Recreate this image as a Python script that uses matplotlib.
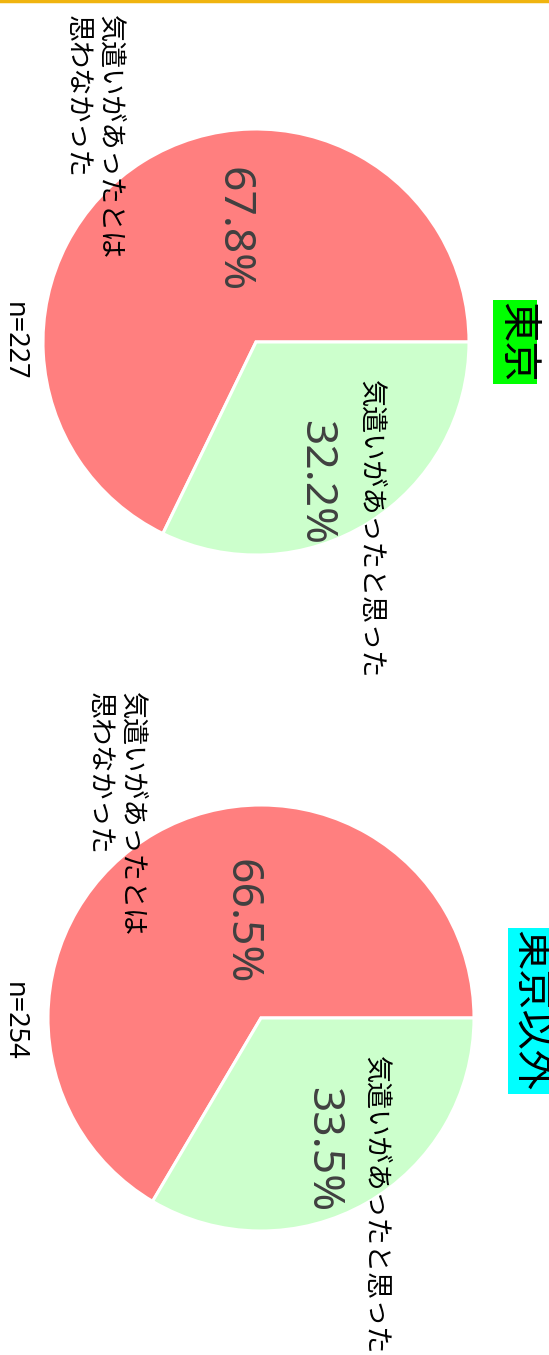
import matplotlib.pyplot as plt

plt.rcParams['font.family'] = ['Noto Sans', 'Noto Sans CJK JP', 'DejaVu Sans']

# data
regions = ['東京', '東京以外']
region_colors = ['#00FF00', '#00FFFF']
sample_sizes = [227, 254]
answers = ['気遣いがあったとは\n思わなかった', '気遣いがあったと思った']
answer_colors = ['#FF7F7F', '#CCFFCC']
shares_tokyo = [67.8, 32.2]
shares_other = [66.5, 33.5]
shares = [shares_tokyo, shares_other]

# layout (pixel coordinates of the rotated picture)
centers = [(256, 342), (261, 1018)]
radius = 213
pct_pos = [[(233, 230), (315, 483)], [(240, 922), (322, 1150)]]
label_pos = [[(93, 15), (370, 529)], [(115, 692), (375, 1205)]]
title_pos = [(515, 342), (530, 1011)]
n_pos = [(14, 341), (14, 1021)]

fig = plt.figure(figsize=(5.49, 13.55), dpi=100)
ax = fig.add_axes([0, 0, 1, 1])

for i in range(len(regions)):
    ax.pie(shares[i], colors=answer_colors, center=centers[i], radius=radius,
           startangle=0, counterclock=False,
           wedgeprops=dict(edgecolor='white', linewidth=2.2))
    for j, v in enumerate(shares[i]):
        x, y = pct_pos[i][j]
        ax.text(x, y, f'{v:.1f}%', rotation=-90, ha='center', va='center',
                fontsize=32, color='#404040')
    # answer labels
    x, y = label_pos[i][0]
    ax.text(x, y, answers[0], rotation=-90, ha='center', va='top',
            multialignment='left', fontsize=19.5, color='black', linespacing=1.2)
    x, y = label_pos[i][1]
    ax.text(x, y, answers[1], rotation=-90, ha='center', va='center',
            fontsize=19.5, color='black')
    # region title
    x, y = title_pos[i]
    ax.text(x, y, regions[i], rotation=-90, ha='center', va='center',
            fontsize=29, color='black',
            bbox=dict(boxstyle='square,pad=0.05', facecolor=region_colors[i],
                      edgecolor='none'))
    # sample size
    x, y = n_pos[i]
    ax.text(x, y, f'n={sample_sizes[i]}', rotation=-90, ha='center',
            va='center', fontsize=19.5, color='black')

ax.axhline(1, color='#F0B40F', linewidth=2.5)
ax.set_xlim(0, 549)
ax.set_ylim(1355, 0)
ax.set_aspect('equal')
ax.axis('off')

fig.savefig('out.png', dpi=100, facecolor='white')
